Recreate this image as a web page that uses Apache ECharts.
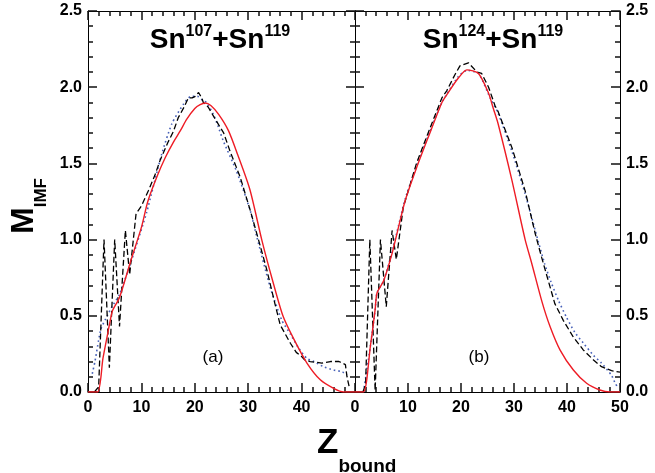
<!DOCTYPE html>
<html>
<head>
<meta charset="utf-8">
<script src="https://cdn.jsdelivr.net/npm/echarts@6/dist/echarts.min.js"></script>
<style>html,body{margin:0;padding:0;background:#fff}#c{width:655px;height:473px;background:#fff}</style>
</head>
<body>
<div id="c"></div>
<script>
// ---- Data (Z_bound, M_IMF) ----
// Panel (a) Sn107+Sn119
const zRedA = [0, 1.8, 2.8, 3.7, 4.0, 4.6, 5.9, 8.0, 10.0, 11.2, 13.0, 14.5, 16.0, 17.3, 18.5, 20.0, 21.0, 21.9, 23.0, 24.5, 26.3, 28.0, 30.3, 32.6, 34.5, 36.5, 38.5, 41.0, 43.5, 46.0, 47.9, 50];
const mRedA = [0, 0.0, 0.22, 0.385, 0.44, 0.535, 0.62, 0.86, 1.08, 1.25, 1.42, 1.54, 1.64, 1.715, 1.79, 1.86, 1.885, 1.896, 1.88, 1.82, 1.715, 1.56, 1.33, 0.99, 0.74, 0.50, 0.35, 0.19, 0.08, 0.024, 0, 0];
const zDashA = [1.2, 2.0, 3.0, 4.0, 5.0, 5.9, 7.0, 7.8, 9.0, 10.0, 11.3, 12.5, 13.5, 15.0, 16.0, 16.9, 18.0, 18.8, 19.5, 20.1, 20.7, 21.3, 21.6, 22.5, 23.5, 24.7, 25.4, 26.6, 28.5, 30.4, 32.0, 33.5, 35.0, 36.0, 37.9, 39.0, 40.1, 40.6, 41.6, 43.8, 45.4, 47.0, 48.2, 48.5, 49.0];
const mDashA = [0, 0.035, 1.0, 0.16, 1.0, 0.43, 1.06, 0.77, 1.17, 1.22, 1.32, 1.42, 1.52, 1.64, 1.71, 1.80, 1.87, 1.93, 1.93, 1.94, 1.965, 1.93, 1.90, 1.87, 1.81, 1.74, 1.70, 1.58, 1.41, 1.19, 0.99, 0.80, 0.58, 0.44, 0.32, 0.26, 0.23, 0.21, 0.20, 0.19, 0.20, 0.20, 0.18, 0.10, 0.02];
const zDotA = [0.8, 1.3, 2.4, 3.6, 4.5, 5.9, 8.2, 10.3, 11.0, 13.8, 15.7, 17.9, 19.3, 20.5, 21.6, 22.2, 23.5, 24.4, 25.3, 27.8, 30.3, 31.6, 34.1, 36.3, 37.9, 39.5, 41.0, 42.3, 44.1, 46.0, 47.6, 48.5];
const mDotA = [0.12, 0.2, 0.41, 0.5, 0.56, 0.64, 0.87, 1.10, 1.18, 1.56, 1.76, 1.89, 1.94, 1.94, 1.91, 1.90, 1.82, 1.74, 1.65, 1.45, 1.20, 1.02, 0.69, 0.47, 0.38, 0.285, 0.22, 0.20, 0.166, 0.144, 0.133, 0.11];
// Panel (b) Sn124+Sn119
const zRedB = [0, 1.6, 2.9, 3.8, 4.15, 5.4, 7.0, 8.2, 9.5, 11.6, 13.8, 16.4, 17.3, 19.5, 21.1, 23.3, 25.2, 26.1, 27.0, 29.6, 32.1, 33.3, 35.3, 36.8, 38.7, 41.2, 43.7, 46.2, 48.1, 50];
const mRedB = [0, 0.0, 0.30, 0.54, 0.65, 0.73, 0.91, 1.08, 1.26, 1.47, 1.67, 1.90, 1.95, 2.06, 2.114, 2.09, 1.96, 1.86, 1.76, 1.39, 1.0, 0.85, 0.59, 0.43, 0.275, 0.144, 0.057, 0.013, 0, 0];
const zDashB = [1.5, 2.0, 2.8, 3.8, 4.8, 5.9, 7.0, 7.8, 9.1, 11.6, 13.8, 16.4, 17.3, 18.9, 19.8, 21.4, 23.0, 23.9, 25.2, 26.4, 27.0, 29.6, 32.1, 34.0, 35.2, 37.7, 39.3, 41.2, 43.1, 45.0, 46.5, 48.4, 50];
const mDashB = [0, 0.05, 1.0, 0.01, 1.0, 0.56, 1.06, 0.87, 1.21, 1.50, 1.70, 1.93, 1.976, 2.085, 2.14, 2.16, 2.10, 2.09, 2.0, 1.88, 1.84, 1.605, 1.32, 1.04, 0.885, 0.58, 0.47, 0.36, 0.275, 0.21, 0.166, 0.14, 0.13];
const zDotB = [1.6, 2.9, 3.8, 4.15, 5.4, 7.0, 8.2, 9.5, 11.6, 13.8, 16.4, 19.5, 21.1, 23.3, 25.5, 27.0, 29.6, 32.1, 34.0, 35.8, 37.0, 38.4, 39.9, 41.5, 43.1, 45.0, 46.5, 48.4, 49.1, 49.6];
const mDotB = [0, 0.30, 0.54, 0.65, 0.73, 0.92, 1.09, 1.27, 1.48, 1.68, 1.90, 2.07, 2.11, 2.09, 1.93, 1.83, 1.58, 1.30, 1.06, 0.84, 0.72, 0.60, 0.49, 0.39, 0.32, 0.24, 0.19, 0.11, 0.057, 0.03];

const xTicks = [0, 10, 20, 30, 40, 50];
const yTicks = [0.0, 0.5, 1.0, 1.5, 2.0, 2.5];

const FONT = '"Liberation Sans", Arial, Helvetica, sans-serif';
const pairs = (z, m) => z.map((v, i) => [v, m[i]]);

function xAx(grid, pos, labels, hideLast) {
  return {
    type: 'value', gridIndex: grid, position: pos, min: 0, max: 50, interval: 10,
    axisLine: {show: true, onZero: false, lineStyle: {color: '#000', width: 1}},
    axisTick: {show: true, inside: true, length: 9, lineStyle: {color: '#111', width: 1.5}},
    minorTick: {show: true, splitNumber: 5, length: 5, lineStyle: {color: '#111', width: 1.5}},
    splitLine: {show: false},
    axisLabel: {show: labels, margin: 8, color: '#000', fontFamily: FONT, fontWeight: 'bold', fontSize: 16,
      formatter: function (v) { return (hideLast && v === 50) ? '' : String(v); }}
  };
}
function yAx(grid, pos, labels) {
  return {
    type: 'value', gridIndex: grid, position: pos, min: 0, max: 2.5, interval: 0.5,
    axisLine: {show: true, onZero: false, lineStyle: {color: '#000', width: 1}},
    axisTick: {show: true, inside: true, length: 9, lineStyle: {color: '#111', width: 1.5}},
    minorTick: {show: true, splitNumber: 5, length: 5, lineStyle: {color: '#111', width: 1.5}},
    splitLine: {show: false},
    axisLabel: {show: labels, margin: 6, color: '#000', fontFamily: FONT, fontWeight: 'bold', fontSize: 16,
      formatter: function (v) { return v.toFixed(1); }}
  };
}

function lines(xi, yi, red, dash, dot) {
  return [
    {type: 'line', xAxisIndex: xi, yAxisIndex: yi, data: dot, showSymbol: false, smooth: 0.2,
      lineStyle: {color: '#4660b8', width: 1.6, type: [1.6, 3]}},
    {type: 'line', xAxisIndex: xi, yAxisIndex: yi, data: dash, showSymbol: false, smooth: false,
      lineStyle: {color: '#000', width: 1.3, type: [6, 3]}},
    {type: 'line', xAxisIndex: xi, yAxisIndex: yi, data: red, showSymbol: false, smooth: 0.25,
      lineStyle: {color: '#ee1c25', width: 1.4, type: 'solid'}}
  ];
}

const chart = echarts.init(document.getElementById('c'));
chart.setOption({
  animation: false,
  grid: [
    {left: 88, top: 11, width: 267, height: 381},
    {left: 355, top: 11, width: 265, height: 381}
  ],
  xAxis: [xAx(0, 'bottom', true, true), xAx(0, 'top', false, false), xAx(1, 'bottom', true, false), xAx(1, 'top', false, false)],
  yAxis: [yAx(0, 'left', true), yAx(0, 'right', false), yAx(1, 'left', false), yAx(1, 'right', true)],
  series: [
    ...lines(0, 0, pairs(zRedA, mRedA), pairs(zDashA, mDashA), pairs(zDotA, mDotA)),
    ...lines(2, 3, pairs(zRedB, mRedB), pairs(zDashB, mDashB), pairs(zDotB, mDotB))
  ],
  graphic: [
    {type: 'text', x: 220, y: 54, style: {
      text: '{b|Sn}{s|107}{b|+Sn}{s|119}', align: 'center', verticalAlign: 'bottom',
      rich: {b: {fontFamily: FONT, fontWeight: 'bold', fontSize: 28, fill: '#000', lineHeight: 30, verticalAlign: 'bottom'},
             s: {fontFamily: FONT, fontWeight: 'bold', fontSize: 16, fill: '#000', lineHeight: 16, verticalAlign: 'top'}}}},
    {type: 'text', x: 493, y: 54, style: {
      text: '{b|Sn}{s|124}{b|+Sn}{s|119}', align: 'center', verticalAlign: 'bottom',
      rich: {b: {fontFamily: FONT, fontWeight: 'bold', fontSize: 28, fill: '#000', lineHeight: 30, verticalAlign: 'bottom'},
             s: {fontFamily: FONT, fontWeight: 'bold', fontSize: 16, fill: '#000', lineHeight: 16, verticalAlign: 'top'}}}},
    {type: 'text', x: 213, y: 357, style: {text: '(a)', align: 'center', verticalAlign: 'middle',
      font: '17px ' + FONT, fill: '#000'}},
    {type: 'text', x: 479, y: 357, style: {text: '(b)', align: 'center', verticalAlign: 'middle',
      font: '17px ' + FONT, fill: '#000'}},
    {type: 'text', x: 317, y: 462, style: {
      text: '{z|Z}{s|bound}', align: 'left', verticalAlign: 'bottom',
      rich: {z: {fontFamily: FONT, fontWeight: 'bold', fontSize: 35, fill: '#000', lineHeight: 36, verticalAlign: 'top'},
             s: {fontFamily: FONT, fontWeight: 'bold', fontSize: 19, fill: '#000', lineHeight: 19, verticalAlign: 'bottom', padding: [0, 0, -14, 0]}}}},
    {type: 'text', x: 24, y: 206, rotation: Math.PI / 2, style: {
      text: '{m|M}{s|IMF}', align: 'center', verticalAlign: 'middle',
      rich: {m: {fontFamily: FONT, fontWeight: 'bold', fontSize: 32, fill: '#000', lineHeight: 32, verticalAlign: 'top'},
             s: {fontFamily: FONT, fontWeight: 'bold', fontSize: 17, fill: '#000', lineHeight: 17, verticalAlign: 'bottom', padding: [0, 0, -10, 0]}}}}
  ]
});
</script>
</body>
</html>
